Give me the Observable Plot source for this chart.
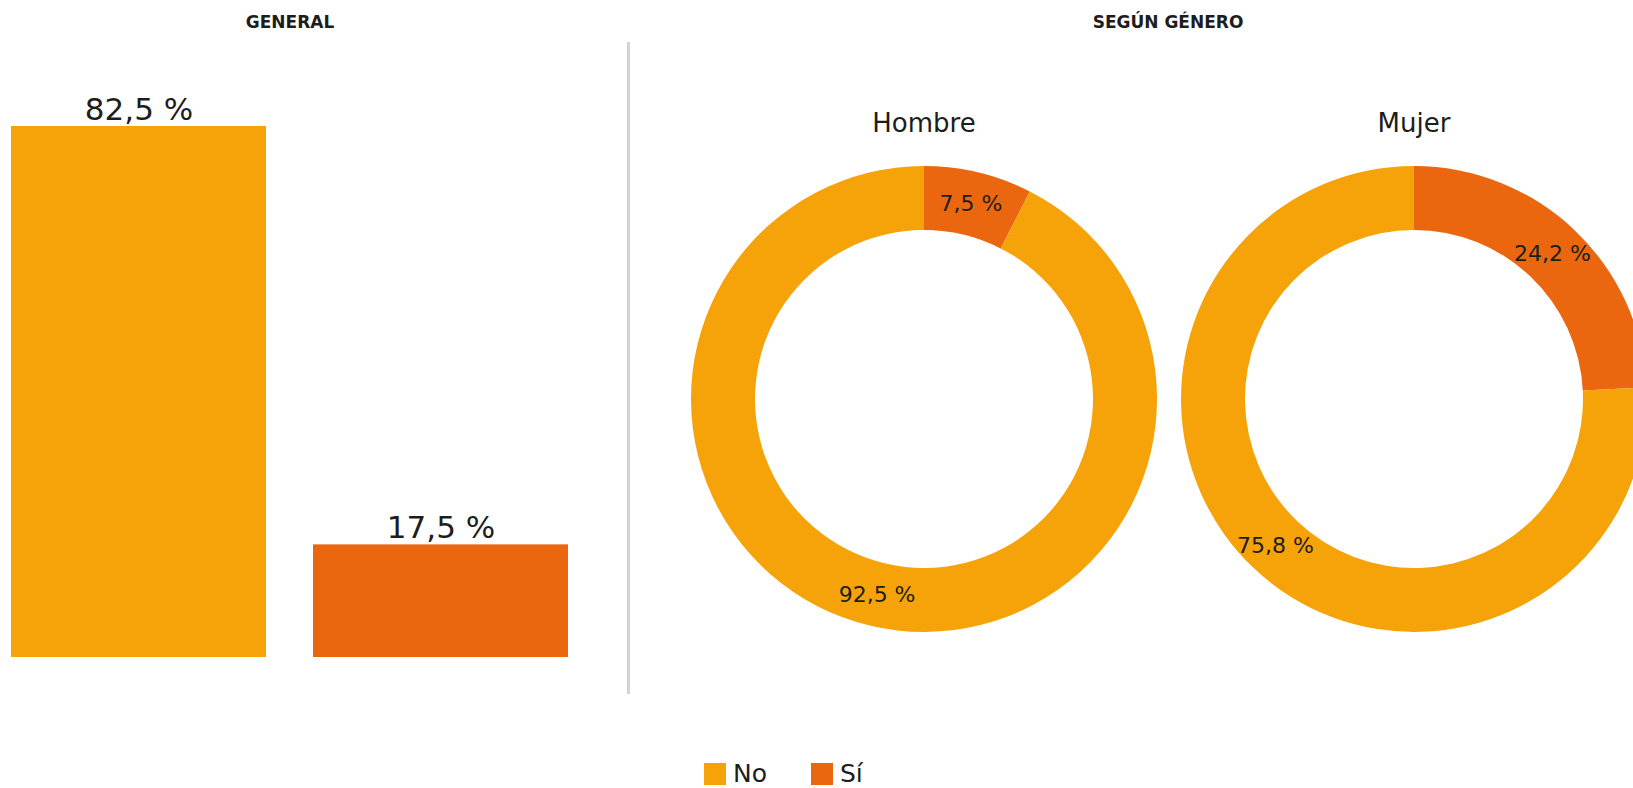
<!DOCTYPE html>
<html>
<head>
<meta charset="utf-8">
<script src="https://cdn.jsdelivr.net/npm/d3@7"></script>
<script src="https://cdn.jsdelivr.net/npm/@observablehq/plot@0.6"></script>
<style>
  html, body { margin: 0; padding: 0; background: #ffffff; }
  body { font-family: "DejaVu Sans", sans-serif; color: #1d1d1b; }
  #wrap { position: relative; width: 1633px; height: 788px; overflow: hidden; }
  #chart svg { display: block; }
  #divider { position: absolute; left: 627px; top: 42px; width: 3px; height: 652px; background: #d4d4d4; }
  #legend { position: absolute; top: 763px; left: 704px; display: flex; align-items: center; font-size: 25px; line-height: 22px; }
  .item { display: flex; align-items: center; margin-right: 44px; }
  .sw { width: 22px; height: 22px; margin-right: 7px; }
</style>
</head>
<body>
<div id="wrap">
  <div id="chart"></div>
  <div id="divider"></div>
  <div id="legend"></div>
</div>
<script>
// ---- Data ----
const categories = ["No", "Sí"];
const generalValues = [82.5, 17.5];
const genders = ["Hombre", "Mujer"];
const noByGender = [92.5, 75.8];
const siByGender = [7.5, 24.2];
const colors = ["#F5A308", "#EA670F"];
const panelTitles = ["GENERAL", "SEGÚN GÉNERO"];

const fmt = v => v.toFixed(1).replace(".", ",") + " %";
const general = categories.map((c, i) => ({cat: c, value: generalValues[i]}));

// ---- Donut custom mark ----
function donuts(index, scales) {
  const g = d3.create("svg:g");
  const inner = 169, outer = 233;
  const pie = d3.pie().sort(null).value(d => d.value);
  const arc = d3.arc().innerRadius(inner).outerRadius(outer);
  const centers = d3.scalePoint().domain(genders).range([924, 1414]);
  const cy = 399;
  genders.forEach((name, i) => {
    const slices = pie([
      {cat: "Sí", value: siByGender[i]},
      {cat: "No", value: noByGender[i]}
    ]);
    const gg = g.append("g").attr("transform", `translate(${centers(name)},${cy})`);
    gg.selectAll("path").data(slices).join("path")
      .attr("d", arc)
      .attr("fill", d => scales.color(d.data.cat));
    gg.selectAll("text.val").data(slices).join("text")
      .attr("class", "val")
      .attr("transform", d => `translate(${arc.centroid(d)})`)
      .attr("text-anchor", "middle")
      .attr("dy", "0.36em")
      .attr("font-size", 22)
      .attr("fill", "#1d1d1b")
      .text(d => fmt(d.data.value));
    gg.append("text")
      .attr("y", 132 - cy)
      .attr("text-anchor", "middle")
      .attr("font-size", 26)
      .attr("fill", "#1d1d1b")
      .text(name);
  });
  // panel titles
  const tx = [290, 1168];
  panelTitles.forEach((t, i) => {
    g.append("text")
      .attr("x", tx[i]).attr("y", 28)
      .attr("text-anchor", "middle")
      .attr("font-size", 17)
      .attr("font-weight", "bold")
      .attr("fill", "#1d1d1b")
      .text(t);
  });
  return g.node();
}

const chart = Plot.plot({
  width: 1633,
  height: 750,
  margin: 0,
  style: {fontFamily: "DejaVu Sans, sans-serif", background: "#ffffff", color: "#1d1d1b"},
  x: {type: "band", domain: categories, range: [10, 568], paddingInner: 0.156, paddingOuter: 0, axis: null},
  y: {domain: [0, 82.5], range: [657, 126], axis: null},
  color: {domain: categories, range: colors},
  marks: [
    Plot.barY(general, {x: "cat", y: "value", fill: "cat"}),
    Plot.text(general, {x: "cat", y: "value", text: d => fmt(d.value), lineAnchor: "bottom", dy: -7, fontSize: 31, fill: "#1d1d1b"}),
    donuts
  ]
});
document.getElementById("chart").appendChild(chart);

// ---- Legend ----
const legend = d3.select("#legend");
categories.forEach((c, i) => {
  const it = legend.append("div").attr("class", "item");
  it.append("div").attr("class", "sw").style("background", colors[i]);
  it.append("span").text(c);
});
</script>
</body>
</html>
